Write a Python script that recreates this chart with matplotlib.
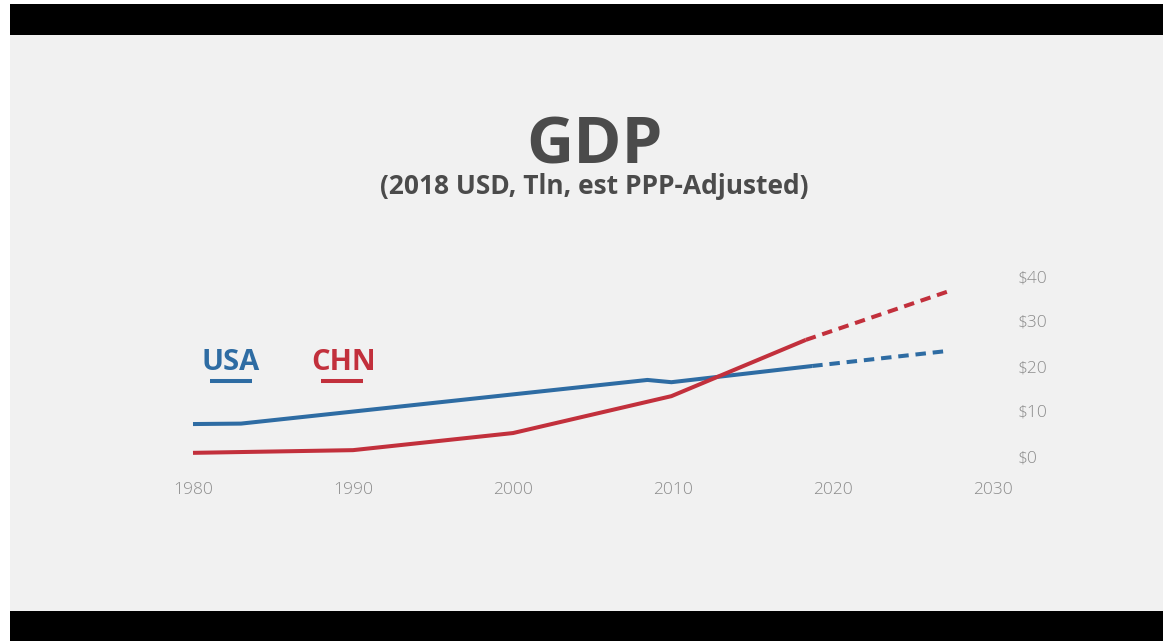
import matplotlib
matplotlib.use("Agg")
import matplotlib.pyplot as plt
from matplotlib.patches import Rectangle
from matplotlib.lines import Line2D

# ---- data (trillions of 2018 USD, PPP-adjusted) ----
usa_years = [1980, 1983, 2008.4, 2009.9, 2018.7]
usa_gdp = [7.1, 7.2, 16.9, 16.4, 20.0]
usa_proj_years = [2018.7, 2027.3]
usa_proj_gdp = [20.0, 23.4]

chn_years = [1980, 1990, 2000, 2009.9, 2018.3]
chn_gdp = [0.7, 1.3, 5.1, 13.3, 25.8]
chn_proj_years = [2018.3, 2027.3]
chn_proj_gdp = [25.8, 36.7]

x_ticks = [1980, 1990, 2000, 2010, 2020, 2030]
y_ticks = [0, 10, 20, 30, 40]
y_tick_labels = ["$0", "$10", "$20", "$30", "$40"]

BLUE = "#2e6ca3"
RED = "#c2303c"
BG = "#f1f1f1"
TEXT_DARK = "#4b4b4b"
TEXT_LIGHT = "#8c8c8c"

W, H = 1163, 641
fig = plt.figure(figsize=(W / 100, H / 100), dpi=100, facecolor="white")


def fx(px):
    return px / W


def fy(py):
    return 1 - py / H


# frame: grey slide with black letterbox bands (kept behind the axes)
for (left, top, bottom, color) in [(10, 35, 611, BG), (10, 4, 35, "black"), (10, 611, H, "black")]:
    fig.patches.append(Rectangle((fx(left), fy(bottom)), fx(W - left), (bottom - top) / H,
                                 transform=fig.transFigure, facecolor=color,
                                 edgecolor="none", zorder=-10))

# plotting area: 1980..2030 on x, $0..$40 on y
x0, x1 = 193, 993
y0, y1 = 456, 276
ax = fig.add_axes([fx(x0), fy(y0), (x1 - x0) / W, (y0 - y1) / H])
ax.set_zorder(1)
ax.set_facecolor("none")
ax.set_xlim(1980, 2030)
ax.set_ylim(0, 40)
for s in ax.spines.values():
    s.set_visible(False)

lw = 2.9
ax.plot(usa_years, usa_gdp, color=BLUE, lw=lw, solid_capstyle="butt",
        solid_joinstyle="round", clip_on=False)
ax.plot(chn_years, chn_gdp, color=RED, lw=lw, solid_capstyle="butt",
        solid_joinstyle="round", clip_on=False)
ax.plot(usa_proj_years, usa_proj_gdp, color=BLUE, lw=lw, dashes=(2.6, 1.7),
        dash_capstyle="butt", clip_on=False)
ax.plot(chn_proj_years, chn_proj_gdp, color=RED, lw=lw, dashes=(2.6, 1.7),
        dash_capstyle="butt", clip_on=False)

tick_font = dict(family="Open Sans", weight="light", size=12.5)
ax.set_xticks(x_ticks)
ax.set_xticklabels([str(t) for t in x_ticks], color=TEXT_LIGHT, **tick_font)
ax.yaxis.tick_right()
ax.set_yticks(y_ticks)
ax.set_yticklabels(y_tick_labels, color=TEXT_LIGHT, **tick_font)
ax.tick_params(axis="x", length=0, pad=19)
ax.tick_params(axis="y", length=0, pad=18)

# titles
fig.text(fx(594), fy(163), "GDP", ha="center", va="baseline",
         family="Open Sans", weight="bold", size=47, color=TEXT_DARK)
fig.text(fx(594), fy(194), "(2018 USD, Tln, est PPP-Adjusted)", ha="center",
         va="baseline", family="Open Sans", weight="bold", size=19, color=TEXT_DARK)

# legend labels with underline bars
fig.text(fx(202), fy(370), "USA", ha="left", va="baseline",
         family="Open Sans", weight="bold", size=21, color=BLUE)
fig.text(fx(311), fy(370), "CHN", ha="left", va="baseline",
         family="Open Sans", weight="bold", size=21, color=RED)
fig.lines.append(Line2D([fx(210), fx(252)], [fy(381), fy(381)], transform=fig.transFigure,
                        color=BLUE, lw=2.9, solid_capstyle="butt"))
fig.lines.append(Line2D([fx(321), fx(363)], [fy(381), fy(381)], transform=fig.transFigure,
                        color=RED, lw=2.9, solid_capstyle="butt"))

fig.savefig("out.png", dpi=100, facecolor="white")
